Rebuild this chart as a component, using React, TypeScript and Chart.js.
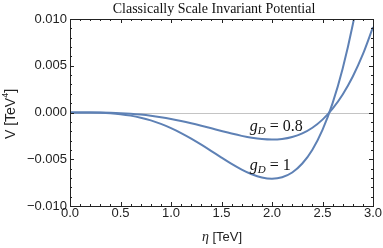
import React, { useEffect, useRef } from "react";
import { Chart, registerables } from "chart.js";
Chart.register(...registerables);

const eta = [0, 0.1, 0.2, 0.3, 0.4, 0.5, 0.6, 0.7, 0.8, 0.9, 1.0, 1.1, 1.2, 1.3, 1.4, 1.5, 1.6, 1.7, 1.8, 1.9, 2.0, 2.1, 2.2, 2.3, 2.4, 2.5, 2.6, 2.7, 2.8, 2.9, 3.0];
const vG1 = [0, -0.0000006, -0.0000072, -0.0000308, -0.0000843, -0.000181, -0.000334, -0.000552, -0.000846, -0.001218, -0.001669, -0.002197, -0.002792, -0.003442, -0.004125, -0.004818, -0.005488, -0.006098, -0.006604, -0.00695, -0.00708, -0.006926, -0.006414, -0.005458, -0.003976, -0.00186, 0.001003, 0.004713, 0.009411, 0.015223, 0.022294];
const vG08 = [0, -0.0000002, -0.000003, -0.0000126, -0.0000345, -0.0000741, -0.000137, -0.000226, -0.000346, -0.000499, -0.000684, -0.0009, -0.001144, -0.00141, -0.00169, -0.001974, -0.002248, -0.002498, -0.002705, -0.002847, -0.0029, -0.002837, -0.002627, -0.002236, -0.001628, -0.000762, 0.000411, 0.00193, 0.003855, 0.006235, 0.009132];
const xTicks = [0, 0.5, 1.0, 1.5, 2.0, 2.5, 3.0];
const yTicks = [-0.01, -0.005, 0, 0.005, 0.01];
const labels = [
  { text: "0.8", x: 1.78, y: -0.0016 },
  { text: "1", x: 1.78, y: -0.0057 },
];
const title = "Classically Scale Invariant Potential";

const LINE = "#5E81B5";

export default function App() {
  const ref = useRef<HTMLCanvasElement | null>(null);
  useEffect(() => {
    document.body.style.margin = "0";
    const frame = {
      id: "frame",
      beforeDatasetsDraw(chart: any) {
        const { ctx, chartArea: a, scales } = chart;
        const y0 = scales.y.getPixelForValue(0);
        ctx.save();
        ctx.strokeStyle = "#c4c4c4";
        ctx.lineWidth = 1;
        ctx.beginPath();
        ctx.moveTo(a.left, Math.round(y0) + 0.5);
        ctx.lineTo(a.right, Math.round(y0) + 0.5);
        ctx.stroke();
        ctx.restore();
      },
      afterDraw(chart: any) {
        const { ctx, chartArea: a, scales } = chart;
        const xs = scales.x, ys = scales.y;
        ctx.save();
        ctx.strokeStyle = "#222";
        ctx.lineWidth = 1;
        ctx.strokeRect(Math.round(a.left) + 0.5, Math.round(a.top) + 0.5, Math.round(a.right - a.left), Math.round(a.bottom - a.top));
        ctx.beginPath();
        for (let i = 0; i <= 30; i++) {
          const v = i / 10;
          const px = Math.round(xs.getPixelForValue(v)) + 0.5;
          const len = i % 5 === 0 ? 4 : 2;
          ctx.moveTo(px, a.bottom);
          ctx.lineTo(px, a.bottom - len);
          ctx.moveTo(px, a.top);
          ctx.lineTo(px, a.top + len);
        }
        for (let i = -10; i <= 10; i++) {
          const v = i / 1000;
          const py = Math.round(ys.getPixelForValue(v)) + 0.5;
          const len = i % 5 === 0 ? 4 : 2;
          ctx.moveTo(a.left, py);
          ctx.lineTo(a.left + len, py);
          ctx.moveTo(a.right, py);
          ctx.lineTo(a.right - len, py);
        }
        ctx.stroke();

        // title
        ctx.fillStyle = "#111";
        ctx.font = '14px "Liberation Serif"';
        ctx.textAlign = "center";
        ctx.textBaseline = "middle";
        ctx.fillText(title, 214, 9);

        // axis titles
        ctx.fillStyle = "#222";
        ctx.save();
        ctx.translate(11, 114);
        ctx.rotate(-Math.PI / 2);
        const vt = "V [TeV";
        ctx.font = '14px "Liberation Sans"';
        const w1 = ctx.measureText(vt).width;
        ctx.font = '9px "Liberation Sans"';
        const w2 = ctx.measureText("4").width;
        ctx.font = '14px "Liberation Sans"';
        const w3 = ctx.measureText("]").width;
        const tot = w1 + w2 + w3;
        ctx.textAlign = "left";
        ctx.fillText(vt, -tot / 2, 0);
        ctx.font = '9px "Liberation Sans"';
        ctx.fillText("4", -tot / 2 + w1, -5);
        ctx.font = '14px "Liberation Sans"';
        ctx.fillText("]", -tot / 2 + w1 + w2, 0);
        ctx.restore();

        ctx.textAlign = "left";
        ctx.font = 'italic 14px "Liberation Serif"';
        const we = ctx.measureText("η").width;
        ctx.font = '13px "Liberation Sans"';
        const wr = ctx.measureText(" [TeV]").width;
        const sx = 222 - (we + wr) / 2;
        ctx.font = 'italic 14px "Liberation Serif"';
        ctx.fillText("η", sx, 237);
        ctx.font = '13px "Liberation Sans"';
        ctx.fillText(" [TeV]", sx + we, 237);

        // curve labels
        ctx.fillStyle = "#111";
        for (const l of labels) {
          let px = xs.getPixelForValue(l.x);
          const py = ys.getPixelForValue(l.y);
          ctx.textBaseline = "alphabetic";
          ctx.font = 'italic 16px "Liberation Serif"';
          ctx.fillText("g", px, py + 4);
          px += ctx.measureText("g").width;
          ctx.font = 'italic 11px "Liberation Serif"';
          ctx.fillText("D", px, py + 7);
          px += ctx.measureText("D").width;
          ctx.font = '16px "Liberation Serif"';
          ctx.fillText(" = " + l.text, px, py + 4);
        }
        ctx.restore();
      },
    };

    const chart = new Chart(ref.current as HTMLCanvasElement, {
      type: "line",
      data: {
        datasets: [
          {
            label: "gD = 0.8",
            data: eta.map((x, i) => ({ x, y: vG08[i] })),
            borderColor: LINE,
            borderWidth: 2,
            pointRadius: 0,
            tension: 0.4,
            cubicInterpolationMode: "monotone",
          },
          {
            label: "gD = 1",
            data: eta.map((x, i) => ({ x, y: vG1[i] })),
            borderColor: LINE,
            borderWidth: 2,
            pointRadius: 0,
            tension: 0.4,
            cubicInterpolationMode: "monotone",
          },
        ],
      },
      options: {
        animation: false,
        responsive: false,
        layout: { padding: { top: 19, right: 10, left: 0, bottom: 0 } },
        plugins: { legend: { display: false }, tooltip: { enabled: false }, title: { display: false } },
        scales: {
          x: {
            type: "linear",
            min: 0,
            max: 3,
            afterBuildTicks: (s: any) => { s.ticks = xTicks.map((v) => ({ value: v })); },
            afterFit: (s: any) => { s.height = 42; },
            ticks: {
              callback: (v: any) => Number(v).toFixed(1),
              font: { family: "Liberation Sans", size: 13 },
              color: "#222",
              padding: 0,
              maxRotation: 0,
            },
            grid: { display: false, drawTicks: false },
            border: { display: false },
          },
          y: {
            type: "linear",
            min: -0.01,
            max: 0.01,
            afterBuildTicks: (s: any) => { s.ticks = yTicks.map((v) => ({ value: v })); },
            afterFit: (s: any) => { s.width = 70; },
            ticks: {
              callback: (v: any) => {
                const n = Number(v);
                if (Math.abs(n) < 1e-9) return "0.000";
                return (n < 0 ? "\u2212" : "") + Math.abs(n).toFixed(3);
              },
              font: { family: "Liberation Sans", size: 13 },
              color: "#222",
              padding: 3,
            },
            grid: { display: false, drawTicks: false },
            border: { display: false },
          },
        },
      },
      plugins: [frame],
    } as any);
    return () => chart.destroy();
  }, []);
  return (
    <div style={{ width: 383, height: 248 }}>
      <canvas ref={ref} width={383} height={248} style={{ display: "block" }} />
    </div>
  );
}
